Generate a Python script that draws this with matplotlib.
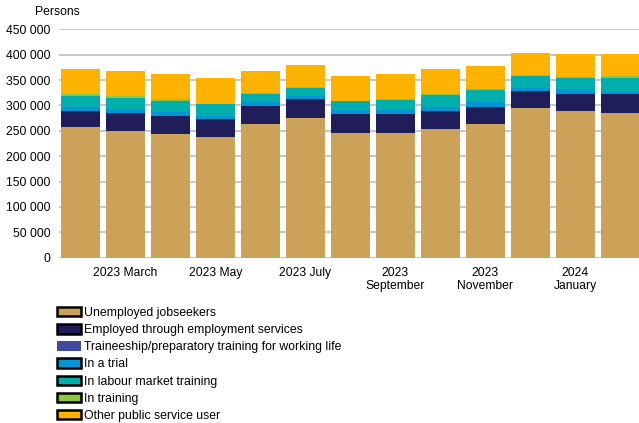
import numpy as np
import matplotlib.pyplot as plt
from matplotlib.patches import Patch
from matplotlib.ticker import FuncFormatter

plt.rcParams['font.family'] = ['Liberation Sans', 'DejaVu Sans']

# months Feb 2023 .. Feb 2024
months = ['2023 February', '2023 March', '2023 April', '2023 May', '2023 June',
          '2023 July', '2023 August', '2023\nSeptember', '2023 October',
          '2023\nNovember', '2023 December', '2024\nJanuary', '2024 February']

unemployed = [258000, 250000, 244000, 238000, 264000, 275600, 246000, 246000,
              254000, 264000, 295400, 289500, 285500]
employed = [31500, 35500, 35500, 35700, 35600, 37500, 37600, 37600,
            35500, 33600, 33600, 33500, 37500]
traineeship = [300, 300, 300, 300, 300, 300, 300, 300, 300, 300, 300, 300, 300]
trial = [6500, 8000, 8000, 6000, 6600, 6000, 6400, 6400, 6500, 8500, 6000, 10000, 6000]
labour_training = [23000, 21500, 21500, 23400, 17000, 16000, 19000, 21000,
                   25000, 23700, 23600, 21700, 25700]
training = [4000, 4000, 4000, 500, 2000, 500, 500, 2000, 2000, 2000, 500, 300, 4000]
other = [49500, 49500, 49500, 49700, 43500, 43400, 47700, 49600, 49500, 46800,
         43400, 47300, 43400]

series = [
    ('Unemployed jobseekers', unemployed, '#CBA258', True),
    ('Employed through employment services', employed, '#201E5A', True),
    ('Traineeship/preparatory training for working life', traineeship, '#3F4A9E', False),
    ('In a trial', trial, '#0095D5', True),
    ('In labour market training', labour_training, '#00AEAB', True),
    ('In training', training, '#8DC63F', True),
    ('Other public service user', other, '#FDB300', True),
]

fig = plt.figure(figsize=(6.39, 4.23), dpi=100)
ax = fig.add_axes([59 / 639, 1 - 257.5 / 423, 1 - 59 / 639, (257.5 - 29.5) / 423])

x = np.arange(len(months))
bottom = np.zeros(len(months))
handles = []
for name, vals, color, edged in series:
    vals = np.array(vals, dtype=float)
    ax.bar(x, vals, width=0.87, bottom=bottom, color=color, zorder=3)
    bottom += vals
    handles.append(Patch(facecolor=color, edgecolor='black' if edged else color,
                         linewidth=1.8 if edged else 0, label=name))

ax.set_ylim(0, 450000)
ax.set_xlim(-0.48, 12.42)
ax.set_yticks(np.arange(0, 450001, 50000))
ax.yaxis.set_major_formatter(FuncFormatter(lambda v, p: f'{int(v):,}'.replace(',', ' ')))
ax.grid(axis='y', color='#C8C8C8', linewidth=1.5, zorder=0)
ax.set_axisbelow(True)
for s in ax.spines.values():
    s.set_visible(False)

ticks = [1, 3, 5, 7, 9, 11]
ax.set_xticks(ticks)
ax.set_xticklabels([months[i] for i in ticks], linespacing=1.1)
ax.tick_params(axis='x', length=0, pad=7, labelsize=8.7)
ax.tick_params(axis='y', length=0, pad=6, labelsize=8.7)

fig.text(35 / 639, 1 - 12 / 423, 'Persons', fontsize=8.7, va='center', ha='left')

fig.legend(handles=handles, loc='upper left', bbox_to_anchor=(57 / 639, 1 - 307 / 423),
           frameon=False, fontsize=8.8, handlelength=2.0, handleheight=0.8,
           handletextpad=0.2, labelspacing=0.42, borderpad=0, borderaxespad=0)

plt.savefig('out.png', dpi=100)
